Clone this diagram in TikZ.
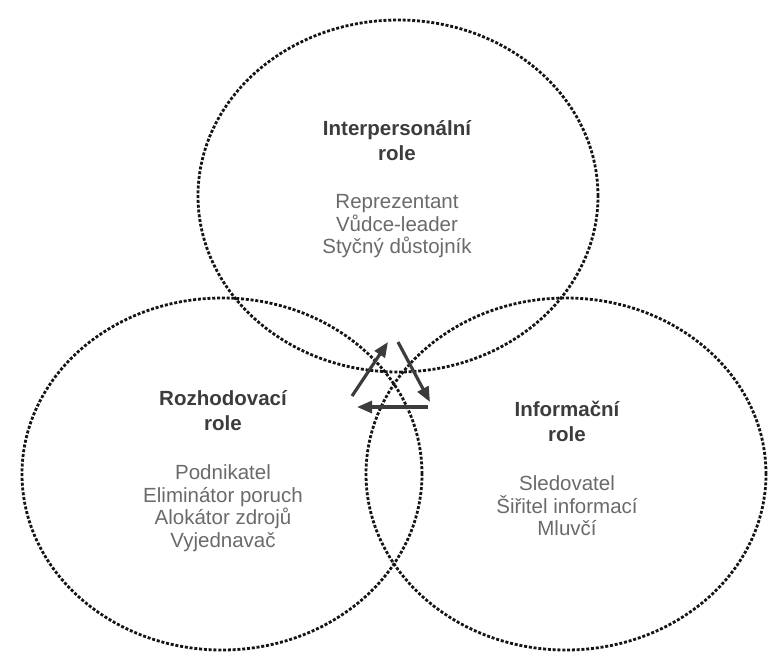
\documentclass[tikz,border=0pt]{standalone}
\usepackage{fontspec}
\setmainfont{Liberation Sans}
\usepackage{tikz}
\usetikzlibrary{shapes.geometric, arrows.meta, positioning}
\definecolor{Ink}  {HTML}{151515}
\definecolor{Dark} {HTML}{3C3C3C}
\definecolor{Gray} {HTML}{6A6A6A}
\tikzset{
  role/.style={draw=Ink, ellipse, dash pattern=on 3pt off 1.8pt, line width=2.8pt,
               minimum width=400pt, minimum height=352pt, inner sep=0pt, outer sep=0pt},
  ttl/.style={align=center, inner sep=0pt, text=Dark, font=\fontsize{20.5}{24.5}\selectfont\bfseries},
  itm/.style={align=center, inner sep=0pt, text=Gray, font=\fontsize{20.5}{22.5}\selectfont},
  cyc/.style={-{Triangle[length=15pt,width=12pt]}, line width=3.2pt, color=Dark}
}

\begin{document}
\begin{tikzpicture}[x=1pt, y=-1pt]
  \useasboundingbox (0,0) rectangle (779,656);
  % the three role groups
  \node[role] (inter) at (398,196) {};
  \node[role] (decis) at (222,474) {};
  \node[role] (infor) at (566,474) {};
  \node[ttl] (interT) at (397,140.5) {Interpersonální\\role};
  \node[itm,below=34pt of interT] (interI) {Reprezentant\\Vůdce-leader\\Styčný důstojník};
  \node[ttl] (decisT) at (223,410.5) {Rozhodovací\\role};
  \node[itm,below=34pt of decisT] (decisI) {Podnikatel\\Eliminátor poruch\\Alokátor zdrojů\\Vyjednavač};
  \node[ttl] (inforT) at (567,421.5) {Informační\\role};
  \node[itm,below=34pt of inforT] (inforI) {Sledovatel\\Šiřitel informací\\Mluvčí};
  % arrow triangle in the middle
  \coordinate (upS) at (352,396); \coordinate (upE) at (388,342);
  \coordinate (dnS) at (398,342); \coordinate (dnE) at (430,402);
  \coordinate (lfS) at (428,407); \coordinate (lfE) at (357,407);
  \draw[cyc](upS)--(upE); \draw[cyc](dnS)--(dnE); \draw[cyc](lfS)--(lfE);
\end{tikzpicture}
\end{document}
